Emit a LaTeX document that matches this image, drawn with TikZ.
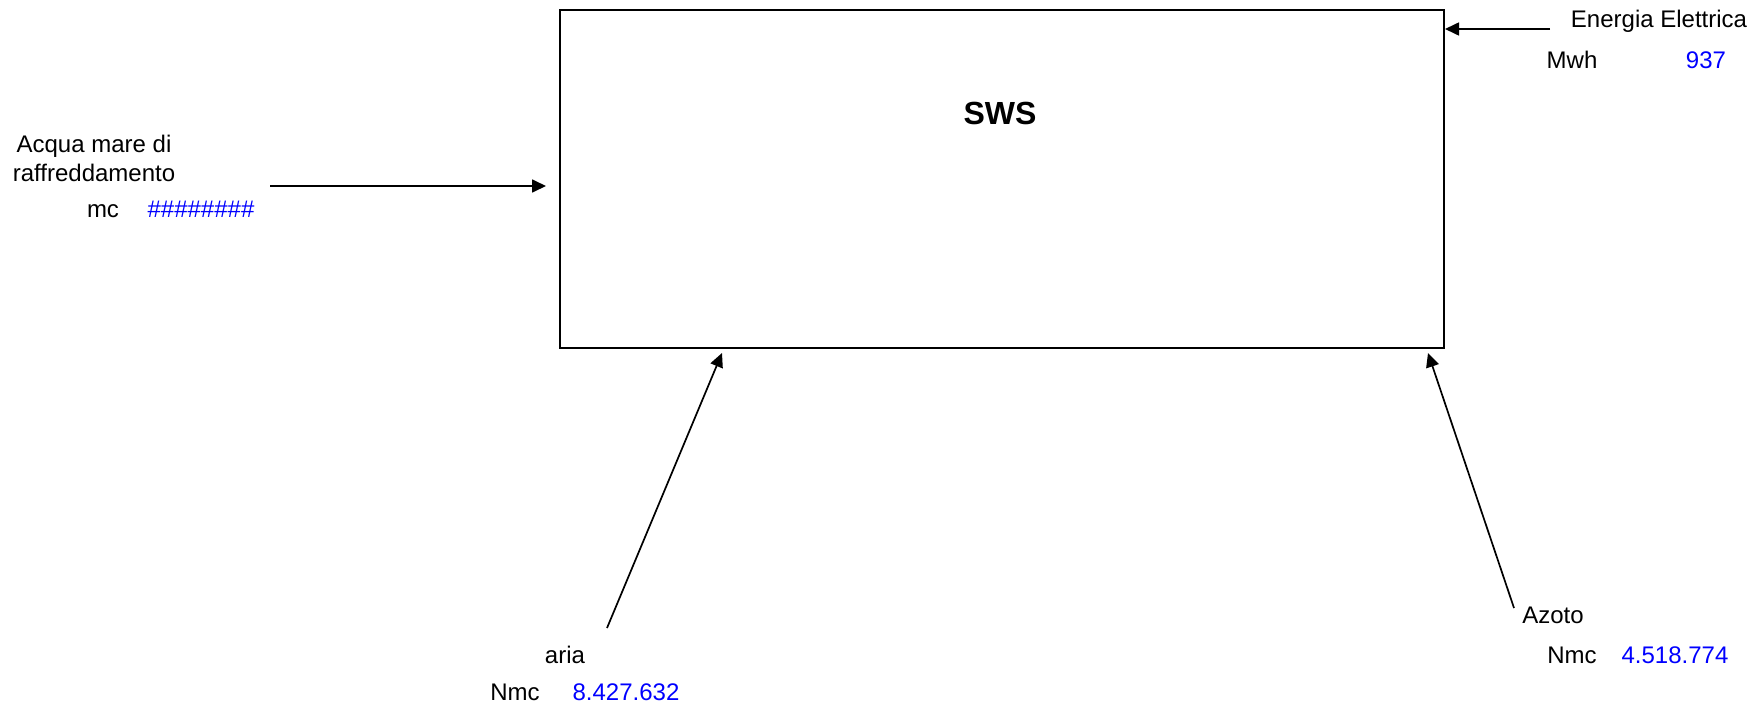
\documentclass[tikz,border=0pt]{standalone}
\usepackage{fontspec}
\setmainfont{Liberation Sans}
\usetikzlibrary{arrows.meta}
\tikzset{
  flow/.style={line width=1.7pt, -{Triangle[length=14pt,width=13pt]}},
  lbl/.style={font=\fontsize{24}{29}\selectfont, inner sep=0pt, anchor=base},
  val/.style={lbl, text=blue},
}
\begin{document}
\begin{tikzpicture}[x=1pt,y=-1pt]
                \useasboundingbox (0,0) rectangle (1764,717);
                % Box
                \node[draw, line width=2pt, minimum width=884pt, minimum height=338pt, inner sep=0pt] (sws) at (1002,179) {};
                \node[font=\fontsize{32}{38}\selectfont\bfseries, inner sep=0pt, anchor=base] (swslbl) at (1000,124) {SWS};
                % Acqua mare
                \node[lbl] (acq1) at (94,152) {Acqua mare di};
                \node[lbl] (acq2) at (94,181) {raffreddamento};
                \node[lbl] (acqu) at (103,217) {mc};
                \node[val] (acqv) at (201,217) {\#\#\#\#\#\#\#\#};
                \coordinate (acqs) at (270,186);
                \coordinate (acqe) at (546,186);
                \draw[flow] (acqs) -- (acqe);
                % Energia Elettrica
                \node[lbl] (ene) at (1659,28) {Energia Elettrica};
                \node[lbl] (eneu) at (1572,68) {Mwh};
                \node[val] (enev) at (1706,68) {937};
                \coordinate (enes) at (1550,29);
                \draw[flow] (enes) -- (enes -| sws.east);
                % aria
                \node[lbl] (ari) at (565,663) {aria};
                \node[lbl] (ariu) at (515,700) {Nmc};
                \node[val] (ariv) at (626,700) {8.427.632};
                \coordinate (aris) at (607,628);
                \coordinate (arie) at (722,353);
                \draw[flow] (aris) -- (arie);
                % Azoto
                \node[lbl] (azo) at (1553,623) {Azoto};
                \node[lbl] (azou) at (1572,663) {Nmc};
                \node[val] (azov) at (1675,663) {4.518.774};
                \coordinate (azos) at (1514,608);
                \coordinate (azoe) at (1428,353);
                \draw[flow] (azos) -- (azoe);
            \end{tikzpicture}
\end{document}
